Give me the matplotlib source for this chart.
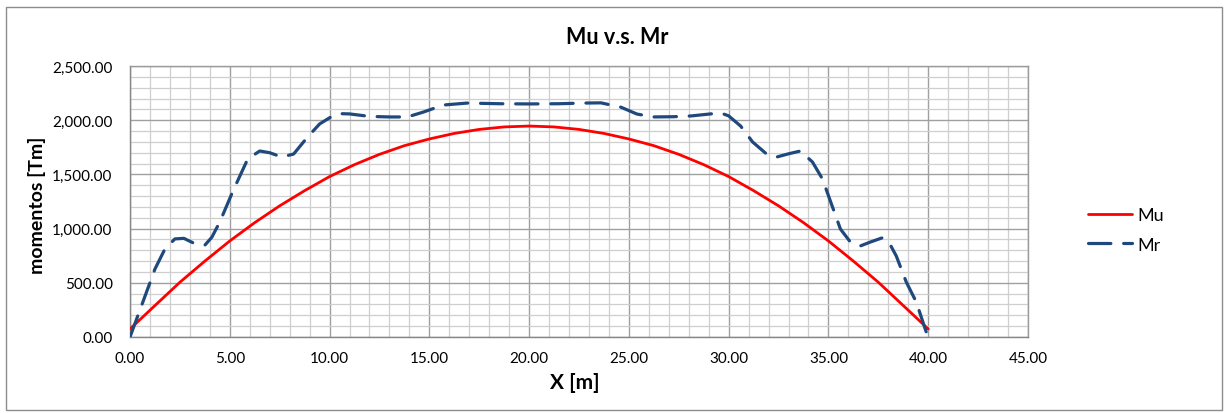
import matplotlib
matplotlib.use("Agg")
import matplotlib.pyplot as plt
from matplotlib.ticker import MultipleLocator, FuncFormatter
from matplotlib.patches import Rectangle

plt.rcParams['font.family'] = ['Lato', 'DejaVu Sans']

# Mu: ultimate moment, read every 1.25 m
mu_x = [0.0, 1.25, 2.5, 3.75, 5.0, 6.25, 7.5, 8.75, 10.0, 11.25, 12.5, 13.75,
        15.0, 16.25, 17.5, 18.75, 20.0, 21.25, 22.5, 23.75, 25.0, 26.25,
        27.5, 28.75, 30.0, 31.25, 32.5, 33.75, 35.0, 36.25, 37.5, 38.75, 40.0]
mu_y = [74, 290, 505, 700, 886, 1055, 1210, 1350, 1480, 1590, 1685, 1765,
        1827, 1878, 1915, 1938, 1946, 1938, 1915, 1878, 1827, 1765,
        1685, 1590, 1480, 1350, 1210, 1055, 886, 700, 505, 290, 74]

# Mr: resisting moment
mr_x = [0.0, 0.6, 1.25, 1.75, 2.25, 2.7, 3.26, 3.76, 4.1, 4.5, 5.16, 5.9,
        6.5, 7.0, 7.6, 8.2, 8.9, 9.5, 10.2, 10.6, 11.0, 12.0, 13.0, 13.9, 14.7,
        15.7, 16.9, 18.5, 20.0, 21.5, 22.7, 23.6, 24.6, 25.4, 26.2, 27.2,
        28.1, 29.2, 29.7, 30.0, 30.6, 31.2, 31.9, 32.4, 33.0, 33.6, 34.2, 34.7,
        35.6, 36.1, 36.6, 37.1, 37.7, 38.1, 38.4, 38.9, 39.4, 39.9, 40.0]
mr_y = [0, 300, 627, 812, 905, 910, 860, 849, 920, 1061, 1347, 1642,
        1716, 1700, 1660, 1688, 1845, 1965, 2045, 2060, 2058, 2035, 2030, 2030, 2075,
        2140, 2158, 2152, 2150, 2152, 2158, 2160, 2120, 2057, 2030, 2032,
        2039, 2060, 2060, 2040, 1946, 1799, 1688, 1660, 1690, 1716, 1614, 1458,
        996, 876, 840, 876, 915, 850, 747, 507, 323, 46, 0]

W, H = 1228, 414
fig = plt.figure(figsize=(W / 100, H / 100), dpi=100)
ax = fig.add_axes([130 / W, 76 / H, 898 / W, 271 / H])

# outer chart frame
fig.patches.append(Rectangle((6 / W, 3 / H), 1216 / W, 403 / H, transform=fig.transFigure,
                             fill=False, edgecolor='#8c8c8c', linewidth=1.0))

ax.plot(mu_x, mu_y, color='#ff0000', lw=2.0, label='Mu', zorder=3,
        solid_capstyle='round', solid_joinstyle='round')
ax.plot(mr_x, mr_y, color='#1f497d', lw=2.3, label='Mr', zorder=3,
        dashes=(7, 4), dash_capstyle='round', dash_joinstyle='round')

ax.set_xlim(0, 45)
ax.set_ylim(0, 2500)
ax.xaxis.set_major_locator(MultipleLocator(5))
ax.xaxis.set_minor_locator(MultipleLocator(1))
ax.yaxis.set_major_locator(MultipleLocator(500))
ax.yaxis.set_minor_locator(MultipleLocator(100))
fmt = FuncFormatter(lambda v, p: f'{v:,.2f}')
ax.xaxis.set_major_formatter(fmt)
ax.yaxis.set_major_formatter(fmt)

ax.grid(which='minor', color='#cfcfcf', lw=0.9, zorder=0)
ax.grid(which='major', color='#a0a0a0', lw=1.0, zorder=1)
ax.set_axisbelow(True)
for s in ax.spines.values():
    s.set_color('#9a9a9a')
    s.set_linewidth(1.0)
ax.spines['left'].set_color('#868686')
ax.spines['bottom'].set_color('#868686')
ax.tick_params(which='both', length=0, labelsize=11, colors='#000000')
ax.tick_params(axis='y', pad=12.5)
ax.tick_params(axis='x', pad=10)

fig.text(617 / W, 1 - 37 / H, 'Mu v.s. Mr', fontsize=15.5, fontweight='bold',
         ha='center', va='center')
fig.text(575 / W, 1 - 383 / H, 'X [m]', fontsize=15, fontweight='bold',
         ha='center', va='center')
fig.text(37 / W, 1 - 205 / H, 'momentos [Tm]', fontsize=14, fontweight='bold',
         ha='center', va='center', rotation=90)

fig.legend(loc='center left', bbox_to_anchor=(1072 / W, 183 / H), frameon=False,
           fontsize=13, handlelength=2.4, labelspacing=0.75, handletextpad=0.3)

fig.savefig('out.png', dpi=100)
